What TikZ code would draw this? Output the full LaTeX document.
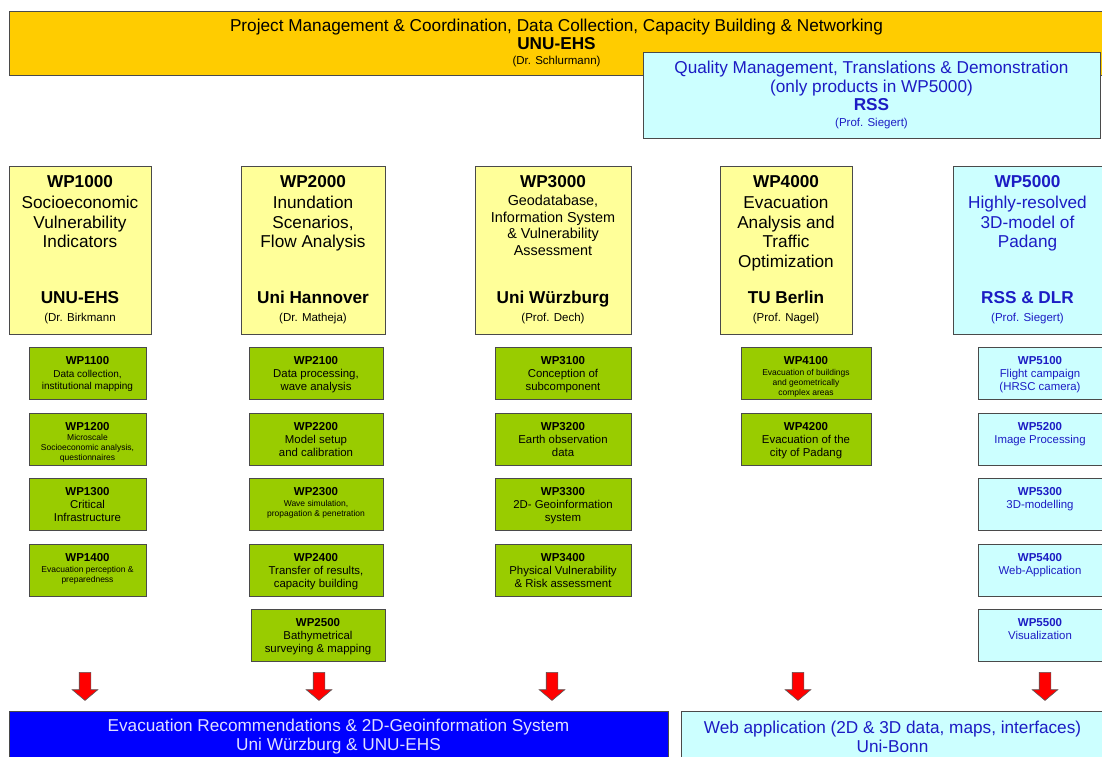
\documentclass[tikz,border=0pt]{standalone}
\usepackage{fontspec}
\setmainfont{Liberation Sans}
\usetikzlibrary{positioning,shapes.arrows}

\definecolor{pmorange}{HTML}{FFCC00}
\definecolor{wpyellow}{HTML}{FFFF99}
\definecolor{taskgreen}{HTML}{99CC00}
\definecolor{rsscyan}{HTML}{CCFFFF}
\definecolor{rssblue}{HTML}{1C1CC4}
\definecolor{evacblue}{HTML}{0000FF}
\definecolor{boxline}{HTML}{4A4A4A}

\newcommand\bigtxt{\fontsize{17.2}{19.5}\selectfont}
\newcommand\geotxt{\fontsize{14.4}{16.5}\selectfont}
\newcommand\persontxt{\fontsize{11.5}{13}\selectfont}
\newcommand\tasktitle{\bfseries\fontsize{11.5}{13}\selectfont}
\newcommand\taskmid{\fontsize{10}{12}\selectfont}
\newcommand\tasksmall{\fontsize{8.5}{10}\selectfont}

\tikzset{
  pm/.style         = {draw=boxline, line width=0.9pt, fill=pmorange,
                       align=center, inner sep=0pt, font=\fontsize{17.2}{18}\selectfont,
                       minimum width=1095pt, minimum height=64pt},
  qm/.style         = {draw=boxline, line width=0.9pt, fill=rsscyan, text=rssblue,
                       align=center, inner sep=0pt, font=\fontsize{17.2}{19.5}\selectfont,
                       minimum width=457pt, minimum height=86pt},
  wp/.style         = {draw=boxline, line width=0.9pt, fill=wpyellow,
                       minimum height=168pt, inner sep=0pt},
  wprss/.style      = {wp, fill=rsscyan},
  wphead/.style     = {anchor=north, inner sep=0pt, font=\bfseries\bigtxt},
  wpdesc/.style     = {inner sep=0pt, align=center, font=\bigtxt},
  wporg/.style      = {inner sep=0pt, align=center, font=\fontsize{17.2}{18}\selectfont},
  task/.style       = {draw=boxline, line width=0.9pt, fill=taskgreen,
                       align=flush center, font=\fontsize{11.4}{13}\selectfont,
                       text width=#1, minimum height=52pt,
                       inner xsep=0pt, inner ysep=8.5pt,
                       text height=8.5pt, text depth=26.5pt},
  rsstask/.style    = {task=#1, fill=rsscyan, text=rssblue},
  resarrow/.style   = {single arrow, draw=black!65, fill=red, line width=0.6pt,
                       shape border rotate=270, inner sep=5.5pt,
                       minimum height=28pt, single arrow head extend=7pt,
                       single arrow tip angle=100},
  evac/.style       = {draw=boxline, line width=0.9pt, fill=evacblue, text=white!88!blue,
                       align=center, inner sep=0pt, font=\fontsize{17.2}{19}\selectfont,
                       minimum width=659pt, minimum height=52pt},
  web/.style        = {evac, fill=rsscyan, text=rssblue, minimum width=423pt}
}

\begin{document}
\begin{tikzpicture}[x=1pt, y=-1pt, node distance=12.5pt]

  \useasboundingbox (0,0) rectangle (1102,756);

  % Management banner, QM box lies over its right end.
  \node[pm] (PM) at (556.5,43)
    {Project Management \& Coordination, Data Collection, Capacity Building \& Networking\\
     \textbf{UNU-EHS}\\[-3pt]{\persontxt (Dr. Schlurmann)}};
  \node[qm] (QM) at (871.5,95)
    {Quality Management, Translations \& Demonstration\\
     (only products in WP5000)\\[-2pt]
     \textbf{RSS}\\[-3pt]{\persontxt (Prof. Siegert)}};

  % The five work packages.
  \node[wp, minimum width=142pt]    (WP1) at (80,250)    {};
  \node[wp, minimum width=144pt]    (WP2) at (313,250)   {};
  \node[wp, minimum width=156pt]    (WP3) at (553,250)   {};
  \node[wp, minimum width=132pt]    (WP4) at (786,250)   {};
  \node[wprss, minimum width=149pt] (WP5) at (1027.5,250) {};

  \node[wphead] (H1) at ([yshift=-10pt]WP1.north) {WP1000};
  \node[wphead] (H2) at ([yshift=-10pt]WP2.north) {WP2000};
  \node[wphead] (H3) at ([yshift=-10pt]WP3.north) {WP3000};
  \node[wphead] (H4) at ([yshift=-10pt]WP4.north) {WP4000};
  \node[wphead, text=rssblue] (H5) at ([yshift=-10pt]WP5.north) {WP5000};

  \node[wpdesc, below=8pt of H1] (D1) {Socioeconomic\\Vulnerability\\Indicators};
  \node[wpdesc, below=8pt of H2] (D2) {Inundation\\Scenarios,\\Flow Analysis};
  \node[wpdesc, below=7pt of H3, font=\geotxt] (D3)
    {Geodatabase,\\Information System\\\& Vulnerability\\Assessment};
  \node[wpdesc, below=8pt of H4] (D4) {Evacuation\\Analysis and\\Traffic\\Optimization};
  \node[wpdesc, below=8pt of H5, text=rssblue] (D5) {Highly-resolved\\3D-model of\\Padang};

  \node[wporg, above=10pt of WP1.south] (O1) {\textbf{UNU-EHS}\\{\persontxt (Dr. Birkmann}};
  \node[wporg, above=10pt of WP2.south] (O2) {\textbf{Uni Hannover}\\{\persontxt (Dr. Matheja)}};
  \node[wporg, above=10pt of WP3.south] (O3) {\textbf{Uni Würzburg}\\{\persontxt (Prof. Dech)}};
  \node[wporg, above=10pt of WP4.south] (O4) {\textbf{TU Berlin}\\{\persontxt (Prof. Nagel)}};
  \node[wporg, above=10pt of WP5.south, text=rssblue] (O5)
    {\textbf{RSS \& DLR}\\{\persontxt (Prof. Siegert)}};

  % Column 1
  \node[task=117pt, below=13pt of WP1, xshift=7.5pt] (T11)
    {{\tasktitle WP1100}\\{\taskmid Data collection,}\\[-1pt]{\taskmid institutional mapping}};
  \node[task=117pt, below=of T11] (T12)
    {{\tasktitle WP1200}\\[-3pt]{\tasksmall Microscale}\\[-3pt]{\tasksmall Socioeconomic analysis,}\\[-3pt]{\tasksmall questionnaires}};
  \node[task=117pt, below=of T12] (T13) {{\tasktitle WP1300}\\Critical\\Infrastructure};
  \node[task=117pt, below=of T13] (T14)
    {{\tasktitle WP1400}\\[-2pt]{\tasksmall Evacuation perception \&}\\[-3pt]{\tasksmall preparedness}};

  % Column 2
  \node[task=134pt, below=13pt of WP2, xshift=3pt] (T21) {{\tasktitle WP2100}\\Data processing,\\wave analysis};
  \node[task=134pt, below=of T21] (T22) {{\tasktitle WP2200}\\Model setup\\and calibration};
  \node[task=134pt, below=of T22] (T23)
    {{\tasktitle WP2300}\\[-2pt]{\tasksmall Wave simulation,}\\[-3pt]{\tasksmall propagation \& penetration}};
  \node[task=134pt, below=of T23] (T24) {{\tasktitle WP2400}\\Transfer of results,\\capacity building};
  \node[task=134pt, below=of T24, xshift=2pt] (T25) {{\tasktitle WP2500}\\Bathymetrical\\surveying \& mapping};

  % Column 3
  \node[task=136pt, below=13pt of WP3, xshift=10pt] (T31) {{\tasktitle WP3100}\\Conception of\\subcomponent};
  \node[task=136pt, below=of T31] (T32) {{\tasktitle WP3200}\\Earth observation\\data};
  \node[task=136pt, below=of T32] (T33) {{\tasktitle WP3300}\\2D- Geoinformation\\system};
  \node[task=136pt, below=of T33] (T34) {{\tasktitle WP3400}\\Physical Vulnerability\\\& Risk assessment};

  % Column 4
  \node[task=130pt, below=13pt of WP4, xshift=20pt] (T41)
    {{\tasktitle WP4100}\\[-2pt]{\tasksmall Evacuation of buildings}\\[-3pt]{\tasksmall and geometrically}\\[-3pt]{\tasksmall complex areas}};
  \node[task=130pt, below=of T41] (T42) {{\tasktitle WP4200}\\Evacuation of the\\city of Padang};

  % Column 5
  \node[rsstask=124pt, below=13pt of WP5, xshift=12.5pt] (T51) {{\tasktitle WP5100}\\Flight campaign\\(HRSC camera)};
  \node[rsstask=124pt, below=of T51] (T52) {{\tasktitle WP5200}\\Image Processing};
  \node[rsstask=124pt, below=of T52] (T53) {{\tasktitle WP5300}\\3D-modelling};
  \node[rsstask=124pt, below=of T53] (T54) {{\tasktitle WP5400}\\Web-Application};
  \node[rsstask=124pt, below=of T54] (T55) {{\tasktitle WP5500}\\Visualization};

  % Red arrows down to the results.
  \node[resarrow] (A1) at (85,684)   {};
  \node[resarrow] (A2) at (319,684)  {};
  \node[resarrow] (A3) at (552,684)  {};
  \node[resarrow] (A4) at (798,684)  {};
  \node[resarrow] (A5) at (1045,684) {};

  % Results
  \node[evac] (EV) at (338.5,737)
    {Evacuation Recommendations \& 2D-Geoinformation System\\Uni Würzburg \& UNU-EHS};
  \node[web] (WEB) at (892.5,737)
    {Web application (2D \& 3D data, maps, interfaces)\\Uni-Bonn};

\end{tikzpicture}
\end{document}
